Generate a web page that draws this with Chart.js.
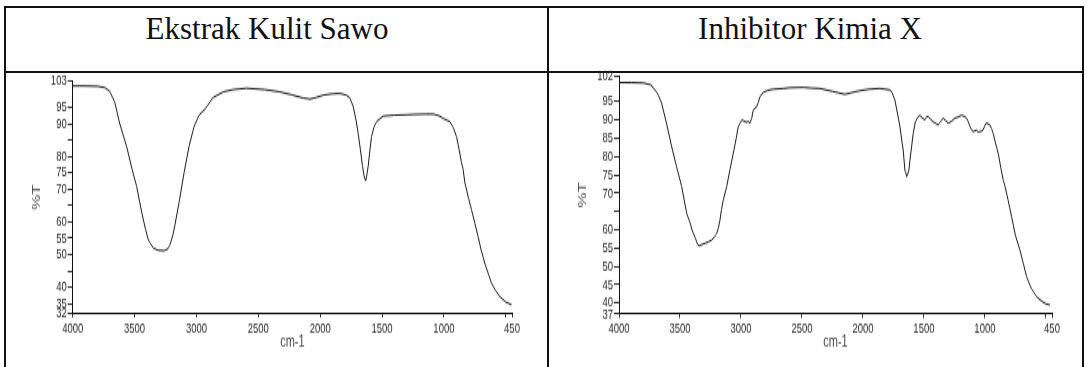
<!DOCTYPE html>
<html>
<head>
<meta charset="utf-8">
<script src="https://cdn.jsdelivr.net/npm/chart.js@4.4.1/dist/chart.umd.min.js"></script>
<style>
  html,body{margin:0;padding:0;background:#fff;}
  body{width:1087px;height:367px;position:relative;overflow:hidden;}
  .ln{position:absolute;background:#111;}
  .hdr{position:absolute;top:13px;height:31px;line-height:31px;font-family:'Liberation Serif','Times New Roman',serif;font-size:31px;color:#111;text-align:center;white-space:nowrap;}
  .wrap{position:absolute;top:60px;transform:scaleY(1.55);transform-origin:0 0;}
  .wrap canvas{display:block;}
</style>
</head>
<body>
<div class="ln" style="left:4px;top:6px;width:1080px;height:2px"></div>
<div class="ln" style="left:4px;top:71px;width:1080px;height:2px"></div>
<div class="ln" style="left:4px;top:6px;width:2px;height:361px"></div>
<div class="ln" style="left:547px;top:6px;width:2px;height:361px"></div>
<div class="ln" style="left:1082px;top:6px;width:2px;height:361px"></div>
<div class="hdr" style="left:0px;width:534px">Ekstrak Kulit Sawo</div>
<div class="hdr" style="left:548px;width:524px">Inhibitor Kimia X</div>
<div class="wrap" style="left:7px;width:538px;height:198px"><canvas id="c1" style="width:538px;height:198px" width="538" height="198"></canvas></div>
<div class="wrap" style="left:551px;width:531px;height:198px"><canvas id="c2" style="width:531px;height:198px" width="531" height="198"></canvas></div>
<script>
// ---- data ----
const ekstrakWn = [4000,3900,3800,3740,3700,3660,3620,3564,3520,3483,3443,3410,3389,3349,3310,3260,3230,3214,3190,3174,3140,3100,3060,3020,2980,2930,2864,2783,2700,2595,2450,2326,2230,2137,2083,2030,1976,1900,1841,1787,1760,1733,1710,1693,1675,1658,1645,1633,1622,1612,1598,1585,1565,1544,1491,1400,1300,1249,1150,1087,1040,1006,975,952,925,898,877,860,845,831,800,777,750,724,700,670,640,616,580,548,500,454];
const ekstrakT  = [101.5,101.5,101.4,101.0,99.8,96.5,90.0,83,76,70.8,63,57.5,54.5,52,51.3,51.2,51.8,53,56,59,66,75,83,89,92.5,94.5,98.0,99.7,100.4,100.8,100.4,99.7,98.8,97.8,97.5,98.0,98.7,99.1,99.2,98.7,97.8,95.2,91,87,82,77,74,72.5,74.5,77,82,86,89,90.6,92.3,92.6,92.7,92.8,92.9,92.9,92.4,91.6,91,90.6,88.8,86,82,78.5,76,72,67,63.7,59.5,55.5,51.5,47.4,44,41.3,38.8,37.2,35.5,34.7];

const inhibitorWn = [4000,3900,3800,3740,3705,3680,3650,3610,3568,3530,3486,3459,3445,3418,3400,3377,3355,3344,3320,3295,3270,3240,3215,3199,3185,3172,3160,3145,3117,3090,3063,3040,3022,2994,2980,2967,2950,2940,2926,2912,2899,2885,2871,2858,2844,2817,2780,2735,2650,2600,2489,2420,2352,2250,2200,2148,2100,2025,1950,1861,1779,1760,1738,1715,1697,1680,1670,1656,1648,1642,1635,1623,1615,1600,1588,1570,1550,1533,1515,1492,1478,1465,1445,1424,1400,1383,1365,1342,1320,1301,1275,1246,1220,1191,1170,1150,1135,1123,1110,1096,1070,1055,1041,1025,1014,1000,992,975,959,945,932,912,891,870,850,836,809,781,750,713,685,658,620,576,530,500,467];
const inhibitorT  = [100.2,100.2,100.1,99.6,98.2,97,94.5,89,82.7,77.5,71.8,67,64.5,62,59.8,58,56,55.6,56,56.3,56.7,57.2,58.2,59,60.5,62.7,65.5,68.1,71.8,76.5,80.9,84.8,88.2,90,89.8,89.5,89.4,89.6,89.1,90.5,92.7,93.2,93.6,94.8,96.4,97.5,98.1,98.4,98.6,98.8,98.9,98.7,98.6,97.8,97.4,97,97.4,98,98.4,98.6,98.2,97.4,95.4,91.5,88.2,84,81.8,76.3,75.5,74.5,75,76.3,79,83,86.3,89.5,90.8,91.3,90.6,90,90.9,90.9,90.2,89.5,89,88.6,89.5,90.5,89.8,89.1,89.6,90.5,90.8,91.3,91,90.5,89.4,88.2,87.3,86.8,87.2,86.7,86.8,87,87.3,88.5,89.1,89,88.6,87.6,86.3,83.5,80.9,77,73.6,72,68,63.5,58.5,54.5,50.8,47.2,44,41.7,40.4,39.8,39.5];

const xTicks      = [4000,3500,3000,2500,2000,1500,1000,500,450];
const xTickLabels = ['4000','3500','3000','2500','2000','1500','1000','','450'];
const yTicksLeft   = [103,95,90,85,80,75,70,65,60,55,50,45,40,35,32];
const yLabelsLeft  = ['103','95','90','','80','75','70','','60','55','50','','40','35','32'];
const yTicksRight  = [102,95,90,85,80,75,70,65,60,55,50,45,40,37];
const yLabelsRight = ['102','95','90','85','80','75','70','','60','55','50','45','40','37'];

const TICKFONT = "'Liberation Sans','Arimo',Arial,sans-serif";

function makeChart(id, wn, t, yTicks, yLabels, g) {
  const pts = wn.map((w, i) => ({x: w, y: t[i]}));
  return new Chart(document.getElementById(id), {
    type: 'line',
    data: { datasets: [{ data: pts, borderColor: '#1a1a1a', borderWidth: 1, pointRadius: 0, tension: 0, fill: false }] },
    options: {
      responsive: false, animation: false, devicePixelRatio: 1,
      layout: { padding: { left: 0, right: g.padRight, top: g.padTop, bottom: 0 } },
      plugins: { legend: { display: false }, tooltip: { enabled: false } },
      scales: {
        x: {
          type: 'linear', reverse: true, min: 450, max: 4000,
          afterBuildTicks: s => { s.ticks = xTicks.map(v => ({value: v})); },
          afterFit: s => { s.height = g.xHeight; },
          ticks: { autoSkip: false, maxRotation: 0, minRotation: 0, padding: 1.5, color: '#2a2a2a',
                   font: { family: TICKFONT, size: 9.5 },
                   callback: v => { const i = xTicks.indexOf(v); return i < 0 ? '' : xTickLabels[i]; } },
          grid: { drawOnChartArea: false, drawTicks: true, tickLength: 2.6, color: '#333' },
          border: { display: true, color: '#111', width: 1 },
          title: { display: true, text: 'cm-1', color: '#444', font: { family: TICKFONT, size: 11 }, padding: { top: 0, bottom: 9.5 } }
        },
        y: {
          type: 'linear', min: g.yMin, max: g.yMax,
          afterBuildTicks: s => { s.ticks = yTicks.map(v => ({value: v})); },
          afterFit: s => { s.width = g.yWidth; },
          ticks: { autoSkip: false, padding: 1, color: '#2a2a2a',
                   font: { family: TICKFONT, size: 9.5 },
                   callback: v => { const i = yTicks.indexOf(v); return i < 0 ? '' : yLabels[i]; } },
          grid: { drawOnChartArea: false, drawTicks: true, tickLength: 5, color: '#333' },
          border: { display: true, color: '#111', width: 1 },
          title: { display: true, text: '%T', color: '#444', font: { family: TICKFONT, size: 11 }, padding: { top: g.yTitlePad, bottom: 0 } }
        }
      }
    }
  });
}

makeChart('c1', ekstrakWn, ekstrakT, yTicksLeft, yLabelsLeft,
  { yMin: 32, yMax: 103, padTop: 13.55, padRight: 33, xHeight: 34.45, yWidth: 65.7, yTitlePad: 23.5 });
makeChart('c2', inhibitorWn, inhibitorT, yTicksRight, yLabelsRight,
  { yMin: 37, yMax: 102, padTop: 10.3, padRight: 30, xHeight: 34.1, yWidth: 68, yTitlePad: 25.5 });
</script>
</body>
</html>
